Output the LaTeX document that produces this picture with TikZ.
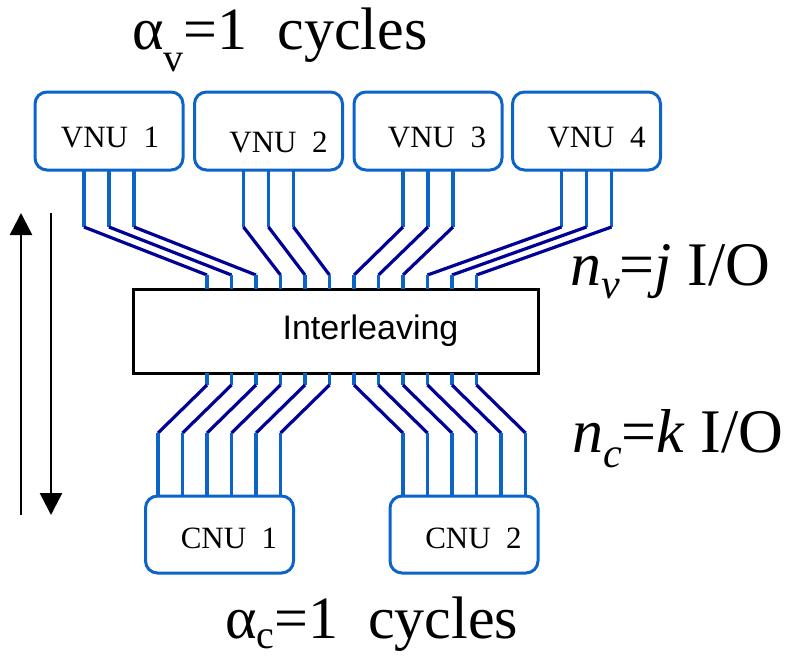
\documentclass[tikz,border=0pt]{standalone}
\usepackage{fontspec}
\setmainfont{Liberation Serif}
\newfontfamily\arialfont{Liberation Sans}
\usetikzlibrary{arrows.meta}
\definecolor{boxblue}{RGB}{12,100,200}
\definecolor{wireblue}{RGB}{0,0,150}
\tikzset{
unit/.style={draw=boxblue,line width=3pt,rounded corners=12pt,minimum width=148pt,minimum height=78pt,inner sep=0pt,outer sep=0pt},
unitlabel/.style={anchor=base,inner sep=0pt,font=\fontsize{31}{31}\selectfont},
pinwire/.style={boxblue,line width=3.2pt},
crosswire/.style={wireblue,line width=3.2pt},
biglabel/.style={anchor=base west,inner sep=0pt,font=\fontsize{60}{60}\selectfont}
}
\begin{document}
\begin{tikzpicture}[x=1pt,y=-1pt,>={Triangle[length=22pt,width=22pt]}]
\useasboundingbox (0,0) rectangle (787,657);
\node[draw,line width=3pt,minimum width=405pt,minimum height=84pt,outer sep=0pt] (il) at (335.5,331) {};
\node[font=\arialfont\fontsize{34}{34}\selectfont] (iltext) at ([xshift=35pt]il.center) {Interleaving};
\foreach \i/\x/\dx/\dy in {1/109/1/16,2/268.5/10/21,3/428/9/16,4/586.5/10/16}{
\node[unit] (v\i) at (\x,131) {};
\node[unitlabel] (vt\i) at ([xshift=\dx pt,yshift=-\dy pt]v\i.center) {VNU\ \ \i};
}
\foreach \i/\x in {1/219.5,2/464}{
\node[unit,minimum height=77pt] (c\i) at (\x,534.5) {};
\node[unitlabel] (ct\i) at ([xshift=9.5pt,yshift=-13.5pt]c\i.center) {CNU\ \ \i};
}
\foreach \n in {0,...,11}{
\coordinate (p\n) at ([xshift=74pt+24.5pt*\n]il.north west);
\coordinate (q\n) at ([xshift=74pt+24.5pt*\n]il.south west);
}
\foreach \n in {0,...,11}{
\pgfmathtruncatemacro\u{div(\n,3)+1}
\pgfmathsetmacro\k{25*(mod(\n,3)-1)}
\draw[pinwire] ([xshift=\k pt]v\u.south) -- ++(0,57) coordinate (s\n);
\draw[crosswire] (s\n) -- ([yshift=14pt]p\n);
\draw[pinwire] ([yshift=14pt]p\n) -- (p\n);
}
\foreach \n in {0,...,11}{
\pgfmathtruncatemacro\u{div(\n,6)+1}
\pgfmathsetmacro\d{ifthenelse(\n<6,-49,49)}
\draw[pinwire] (q\n) -- ++(0,12) coordinate (r\n);
\draw[crosswire] (r\n) -- ++(\d,48) coordinate (e\n);
\draw[pinwire] (e\n) -- (e\n |- c\u.north);
}
\coordinate (ua) at (21,515); \coordinate (ub) at (21,213);
\coordinate (da) at (51,213); \coordinate (db) at (51,515);
\draw[->,line width=2.5pt] (ua) -- (ub);
\draw[->,line width=2.5pt] (da) -- (db);
\node[biglabel] (av) at (132,49) {α\raisebox{-22pt}{\fontsize{40}{40}\selectfont v}=1\ \ cycles};
\node[biglabel] (ac) at (225,638) {α\raisebox{-10pt}{\fontsize{40}{40}\selectfont c}=1\ \ cycles};
\node[biglabel,font=\fontsize{62}{62}\selectfont] (nv) at (570,285) {\textit{n}\raisebox{-13pt}{\fontsize{42}{42}\selectfont\itshape v}=\textit{j} I/O};
\node[biglabel,font=\fontsize{62}{62}\selectfont] (nc) at (572,452) {\textit{n}\raisebox{-15pt}{\fontsize{42}{42}\selectfont\itshape c}=\textit{k} I/O};
\end{tikzpicture}
\end{document}
